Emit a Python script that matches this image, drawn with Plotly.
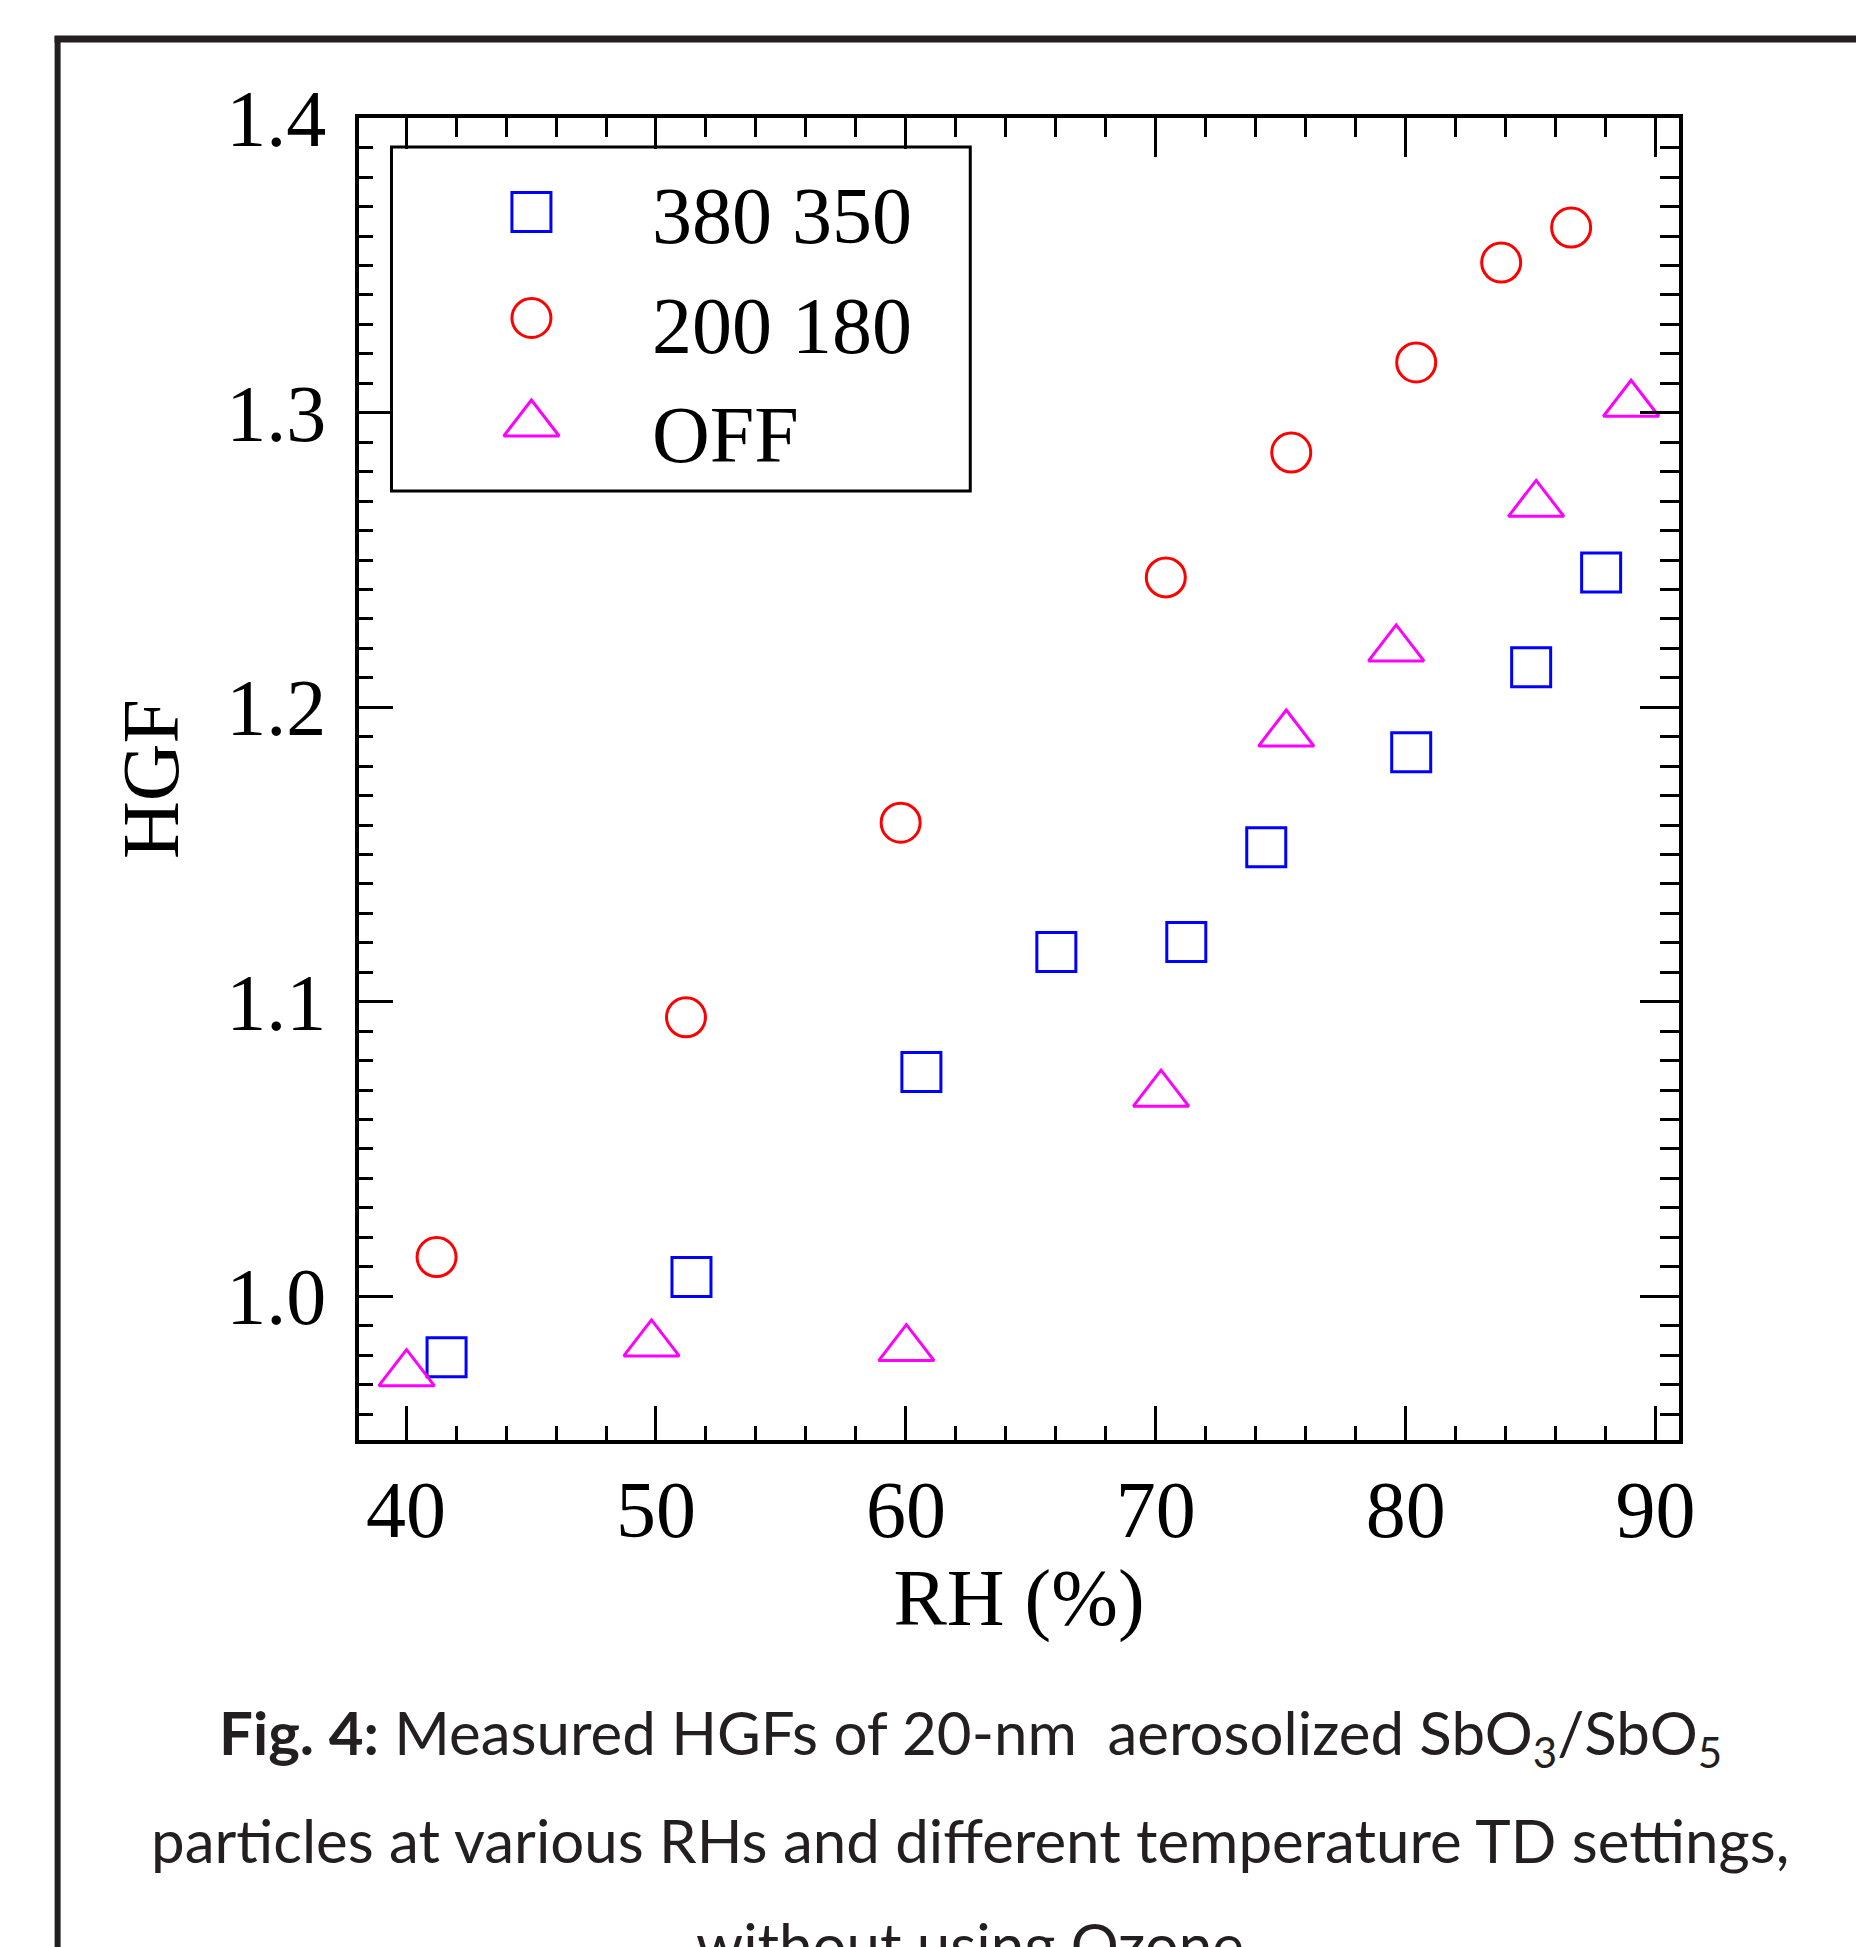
import plotly.graph_objects as go

# ---------------- data ----------------
series_names = ["380 350", "200 180", "OFF"]
series_colors = ["#0000ff", "#ff0000", "#ff00ff"]
series_symbols = ["square-open", "circle-open", "triangle-up-open"]
series_sizes = [39, 39, 48]

rh_380 = [41.62, 51.42, 60.62, 66.02, 71.22, 74.42, 80.22, 85.02, 87.82]
hgf_380 = [0.9793, 1.0065, 1.0761, 1.1169, 1.1203, 1.1525, 1.1847, 1.2136, 1.2458]

rh_200 = [41.22, 51.20, 59.79, 70.40, 75.42, 80.42, 83.82, 86.62]
hgf_200 = [1.0133, 1.0947, 1.1608, 1.2441, 1.2865, 1.3171, 1.3510, 1.3629]

rh_off = [40.02, 49.82, 60.02, 70.21, 75.22, 79.62, 85.22, 89.02]
hgf_off = [0.9737, 0.9838, 0.9822, 1.0686, 1.1909, 1.2198, 1.2689, 1.3029]

x_tick_vals = [40, 50, 60, 70, 80, 90]
x_tick_labels = ["40", "50", "60", "70", "80", "90"]
y_tick_vals = [1.0, 1.1, 1.2, 1.3, 1.4]
y_tick_labels = ["1.0", "1.1", "1.2", "1.3", "1.4"]
x_range = [38.116, 90.936]
y_range = [0.95117, 1.4001]

x_title = "RH (%)\u00a0"
y_title = "HGF"
caption_lines = [
    "<b>Fig. 4:</b> Measured HGFs of 20-nm\u00a0 aerosolized SbO<sub>3</sub>/SbO<sub>5</sub>",
    "particles at various RHs and different temperature TD settings,",
    "without using Ozone",
]

# ---------------- layout geometry (page pixels) ----------------
OFF = 8                      # default page body margin
PAGE_W, PAGE_H = 1864, 1947
W, H = PAGE_W - OFF, PAGE_H - OFF
L, T, PW, PH = 358.5, 118, 1320.5, 1322   # plot area in page pixels
ML, MT = L - OFF, T - OFF
MR = W - ML - PW
MB = H - MT - PH


def px2x(px):
    return (px - L) / PW


def py2y(py):
    return (T + PH - py) / PH


SERIF = "Liberation Serif, Times New Roman, serif"
SANS = "Lato, Open Sans, sans-serif"
AX_FONT = dict(family=SERIF, size=80, color="black")
MARKER_LW = 3

fig = go.Figure()

xs = [rh_380, rh_200, rh_off]
ys = [hgf_380, hgf_200, hgf_off]
for name, x, y, c, s, sz in zip(series_names, xs, ys, series_colors, series_symbols, series_sizes):
    fig.add_trace(go.Scatter(
        x=x, y=y, mode="markers", name=name, showlegend=False,
        marker=dict(symbol=s, size=sz, color=c, line=dict(width=MARKER_LW, color=c)),
        cliponaxis=False,
    ))

# dummy trace to realise the mirrored (top/right) axes
fig.add_trace(go.Scatter(x=[], y=[], xaxis="x2", yaxis="y2", showlegend=False))

# ---------------- manual legend (pixel-unit helper axes) ----------------
LEG_KEY_X = 531
LEG_ROW0 = 212
LEG_ROW_GAP = 106
LEG_TEXT_X = 650
LEG_TEXT_ROW0 = 216
LEG_TEXT_GAP = 109.5
for i, (name, c, s, sz) in enumerate(zip(series_names, series_colors, series_symbols, series_sizes)):
    fig.add_trace(go.Scatter(
        x=[LEG_KEY_X], y=[LEG_ROW0 + i * LEG_ROW_GAP], mode="markers",
        xaxis="x3", yaxis="y3", showlegend=False, hoverinfo="skip",
        marker=dict(symbol=s, size=sz, color=c, line=dict(width=MARKER_LW, color=c)),
    ))
    fig.add_annotation(
        x=LEG_TEXT_X, y=LEG_TEXT_ROW0 + i * LEG_TEXT_GAP, xref="x3", yref="y3",
        text=name, showarrow=False, xanchor="left", yanchor="middle",
        font=dict(family=SERIF, size=80, color="black"),
    )

shapes = []
# white strip hiding top ticks inside the legend box
shapes.append(dict(type="rect", xref="paper", yref="paper",
                   x0=px2x(393), x1=px2x(968), y0=py2y(149), y1=py2y(165),
                   line=dict(width=0), fillcolor="white", layer="above"))
# legend box
shapes.append(dict(type="rect", xref="paper", yref="paper",
                   x0=px2x(391), x1=px2x(970), y0=py2y(147), y1=py2y(491),
                   line=dict(width=3, color="black"), fillcolor="rgba(0,0,0,0)", layer="above"))
# outer page frame
FRAME = "#231f20"
shapes.append(dict(type="line", xref="paper", yref="paper",
                   x0=px2x(54), x1=px2x(1880), y0=py2y(39), y1=py2y(39),
                   line=dict(width=7, color=FRAME)))
shapes.append(dict(type="line", xref="paper", yref="paper",
                   x0=px2x(57), x1=px2x(57), y0=py2y(36), y1=py2y(1980),
                   line=dict(width=6, color=FRAME)))
shapes.append(dict(type="line", xref="paper", yref="paper",
                   x0=px2x(1861), x1=px2x(1861), y0=py2y(40), y1=py2y(1980),
                   line=dict(width=2.5, color=FRAME)))

# caption
cap_centers = [1736, 1840, 1944]
for line, cy in zip(caption_lines, cap_centers):
    fig.add_annotation(
        x=px2x(970), y=py2y(cy), xref="paper", yref="paper",
        text=line, showarrow=False, xanchor="center", yanchor="middle",
        font=dict(family=SANS, size=60, color="#231f20"),
    )

axis_common = dict(
    showgrid=False, zeroline=False, showline=True, linecolor="black", linewidth=3.5,
    ticks="inside", tickcolor="black", tickwidth=2.5,
)

fig.update_layout(
    width=W, height=H,
    margin=dict(l=ML, r=MR, t=MT, b=MB, pad=0),
    paper_bgcolor="white", plot_bgcolor="white",
    showlegend=False,
    shapes=shapes,
    xaxis=dict(
        **axis_common, range=x_range, tickmode="array",
        tickvals=x_tick_vals, ticktext=x_tick_labels, ticklen=34,
        minor=dict(tickmode="linear", tick0=40, dtick=2, ticks="inside", ticklen=14,
                   tickwidth=2.5, tickcolor="black", showgrid=False),
        tickfont=AX_FONT, ticklabelstandoff=-3,
        title=dict(text=x_title, font=AX_FONT, standoff=8),
    ),
    yaxis=dict(
        **axis_common, range=y_range, tickmode="array",
        tickvals=y_tick_vals, ticktext=y_tick_labels, ticklen=34,
        minor=dict(tickmode="linear", tick0=1.0, dtick=0.01, ticks="inside", ticklen=14,
                   tickwidth=2.5, tickcolor="black", showgrid=False),
        tickfont=AX_FONT, ticklabelstandoff=13,
        title=dict(text=y_title, font=AX_FONT, standoff=22),
    ),
    xaxis2=dict(
        **axis_common, overlaying="x", side="top", anchor="y", range=x_range,
        tickmode="array", tickvals=x_tick_vals, ticklen=39, showticklabels=False,
        minor=dict(tickmode="linear", tick0=40, dtick=2, ticks="inside", ticklen=19,
                   tickwidth=2.5, tickcolor="black", showgrid=False),
    ),
    yaxis2=dict(
        **axis_common, overlaying="y", side="right", anchor="x", range=y_range,
        tickmode="array", tickvals=y_tick_vals, ticklen=39, showticklabels=False,
        minor=dict(tickmode="linear", tick0=1.0, dtick=0.01, ticks="inside", ticklen=19,
                   tickwidth=2.5, tickcolor="black", showgrid=False),
    ),
    xaxis3=dict(domain=[0, 1], range=[L, L + PW], visible=False, anchor="y3",
                overlaying="x", fixedrange=True),
    yaxis3=dict(domain=[0, 1], range=[T + PH, T], visible=False, anchor="x3",
                overlaying="y", fixedrange=True),
)

fig.write_html("out.html")
